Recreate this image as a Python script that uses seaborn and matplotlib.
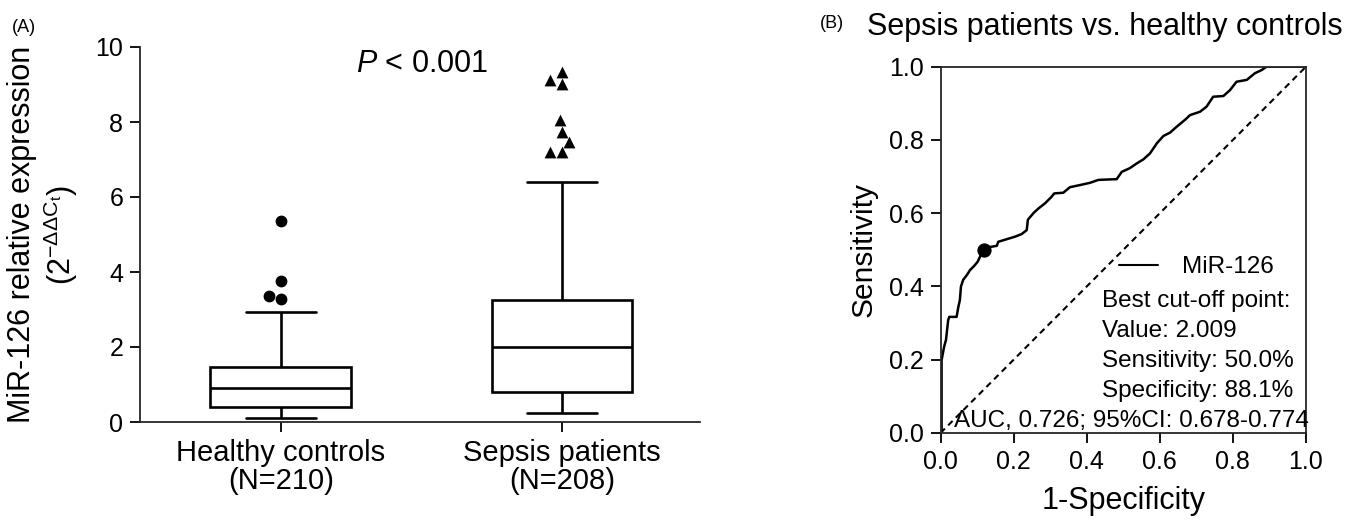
import numpy as np
import pandas as pd
import matplotlib
matplotlib.use("Agg")
import matplotlib.pyplot as plt
import seaborn as sns

# ---------------- data ----------------
groups = ["Healthy controls\n(N=210)", "Sepsis patients\n(N=208)"]
# five-number summaries: lower whisker, Q1, median, Q3, upper whisker
healthy_summary = [0.11, 0.41, 0.92, 1.48, 2.93]
sepsis_summary = [0.23, 0.81, 1.99, 3.25, 6.41]
healthy_outliers = [3.27, 3.37, 3.77, 5.36]
sepsis_outliers = [7.21, 7.21, 7.47, 7.74, 8.05, 9.01, 9.12, 9.34]
y_ticks = [0, 2, 4, 6, 8, 10]
p_text = "< 0.001"

# ROC curve (1-specificity, sensitivity)
roc_fpr = [0.000, 0.003, 0.003, 0.010, 0.015, 0.021, 0.024, 0.044, 0.049, 0.053,
           0.056, 0.062, 0.072, 0.081, 0.092, 0.102, 0.108, 0.117, 0.131, 0.154,
           0.158, 0.181, 0.204, 0.222, 0.236, 0.239, 0.254, 0.268, 0.286, 0.304,
           0.311, 0.336, 0.354, 0.382, 0.409, 0.432, 0.482, 0.496, 0.518, 0.537,
           0.555, 0.573, 0.592, 0.610, 0.628, 0.646, 0.669, 0.683, 0.710, 0.728,
           0.746, 0.774, 0.792, 0.810, 0.838, 0.860, 0.879, 0.892, 1.000]
roc_tpr = [0.000, 0.000, 0.199, 0.236, 0.254, 0.308, 0.317, 0.317, 0.345, 0.363,
           0.400, 0.418, 0.431, 0.445, 0.456, 0.468, 0.481, 0.500, 0.507, 0.511,
           0.522, 0.529, 0.536, 0.543, 0.554, 0.582, 0.600, 0.613, 0.627, 0.645,
           0.654, 0.656, 0.671, 0.677, 0.683, 0.691, 0.693, 0.713, 0.723, 0.736,
           0.747, 0.763, 0.791, 0.811, 0.820, 0.836, 0.855, 0.868, 0.877, 0.891,
           0.918, 0.920, 0.936, 0.959, 0.964, 0.982, 0.991, 1.000, 1.000]
diag = [0.0, 1.0]
cutoff_value = "2.009"
cutoff_sens = 0.500
cutoff_spec = 0.881
auc_text = "AUC, 0.726; 95%CI: 0.678-0.774"
roc_ticks = [0.0, 0.2, 0.4, 0.6, 0.8, 1.0]

# ---------------- style ----------------
sns.set_theme(style="ticks")
plt.rcParams["font.family"] = ["Liberation Sans", "DejaVu Sans"]
plt.rcParams["mathtext.fontset"] = "custom"
plt.rcParams["mathtext.rm"] = "Liberation Sans"
plt.rcParams["mathtext.it"] = "Liberation Sans:italic"
plt.rcParams["mathtext.bf"] = "Liberation Sans:bold"
plt.rcParams["axes.linewidth"] = 1.3
plt.rcParams["text.color"] = "black"
plt.rcParams["axes.labelcolor"] = "black"
plt.rcParams["xtick.color"] = "black"
plt.rcParams["ytick.color"] = "black"

W, H = 1360, 523
fig = plt.figure(figsize=(W / 100, H / 100), dpi=100)

# ---------------- panel A ----------------
axA = fig.add_axes([140 / W, 1 - 422 / H, 560 / W, 375 / H])
box_df = pd.DataFrame({
    "group": [groups[0]] * len(healthy_summary) + [groups[1]] * len(sepsis_summary),
    "value": healthy_summary + sepsis_summary,
})
sns.boxplot(data=box_df, x="group", y="value", order=groups, whis=(0, 100),
            showfliers=False, width=0.5, color="white", linecolor="black",
            linewidth=1.9, ax=axA)
out_h = pd.DataFrame({"group": groups[0], "value": healthy_outliers})
out_s = pd.DataFrame({"group": groups[1], "value": sepsis_outliers})
sns.swarmplot(data=out_h, x="group", y="value", order=groups, marker="o",
              color="black", size=8.5, ax=axA)
sns.swarmplot(data=out_s, x="group", y="value", order=groups, marker="^",
              color="black", size=8.5, ax=axA)

axA.set_xlim(-0.5, 1.49)
axA.set_ylim(0, 10)
axA.set_yticks(y_ticks)
axA.set_yticklabels([str(t) for t in y_ticks])
axA.set_xlabel("")
axA.set_ylabel("MiR-126 relative expression\n" + r"(2$^{-\Delta\Delta\mathrm{C}_{\mathrm{t}}}$)",
               fontsize=22, linespacing=1.15)
axA.yaxis.set_label_coords(-0.108, 0.5)
for s in ["top", "right"]:
    axA.spines[s].set_visible(False)
axA.tick_params(axis="y", labelsize=18, length=7, width=1.3, pad=5, direction="out")
axA.tick_params(axis="x", labelsize=21, length=7, width=1.3, pad=5, direction="out")
for lab in axA.get_xticklabels():
    lab.set_linespacing(1.0)
axA.text(0.266, 9.34, r"$\mathit{P}$ " + p_text, fontsize=22, ha="left", va="baseline")

# ---------------- panel B ----------------
axB = fig.add_axes([940.5 / W, 1 - 433 / H, 365.5 / W, 366.3 / H])
sns.lineplot(x=diag, y=diag, color="black", linewidth=1.5, linestyle=(0, (3, 2.2)),
             ax=axB)
sns.lineplot(x=roc_fpr, y=roc_tpr, sort=False, estimator=None, color="black",
             linewidth=1.8, ax=axB, label="MiR-126")
sns.scatterplot(x=[1 - cutoff_spec], y=[cutoff_sens], color="black", s=90,
                edgecolor="black", zorder=5, ax=axB, legend=False)
axB.set_xlim(0, 1)
axB.set_ylim(0, 1)
axB.set_xticks(roc_ticks)
axB.set_yticks(roc_ticks)
axB.set_xticklabels([f"{t:.1f}" for t in roc_ticks])
axB.set_yticklabels([f"{t:.1f}" for t in roc_ticks])
axB.tick_params(axis="both", labelsize=18, length=7, width=1.3, pad=5, direction="out")
axB.set_xlabel("1-Specificity", fontsize=22, labelpad=9)
axB.set_ylabel("Sensitivity", fontsize=21.5, labelpad=8)
for s in axB.spines.values():
    s.set_visible(True)

fs_ann = 17.5
leg = axB.legend(loc="center left", bbox_to_anchor=(0.488, 0.453), frameon=False,
                 fontsize=fs_ann, handlelength=1.6, handletextpad=1.0,
                 borderpad=0, borderaxespad=0)
for h in leg.get_lines():
    h.set_linewidth(1.5)

axB.text(0.442, 0.344, "Best cut-off point:", fontsize=fs_ann, va="baseline")
axB.text(0.442, 0.262, "Value: " + cutoff_value, fontsize=fs_ann, va="baseline")
axB.text(0.442, 0.180, f"Sensitivity: {cutoff_sens * 100:.1f}%", fontsize=fs_ann, va="baseline")
axB.text(0.442, 0.098, f"Specificity: {cutoff_spec * 100:.1f}%", fontsize=fs_ann, va="baseline")
axB.text(0.037, 0.016, auc_text, fontsize=fs_ann, va="baseline")

# ---------------- panel labels & title ----------------
fig.text(12 / W, 1 - 27 / H, "(A)", fontsize=13, va="center", ha="left")
fig.text(820 / W, 1 - 24 / H, "(B)", fontsize=13, va="center", ha="left")
fig.text(867 / W, 1 - 35 / H, "Sepsis patients vs. healthy controls", fontsize=22,
         va="baseline", ha="left")

fig.savefig("out.png", dpi=100, facecolor="white")
